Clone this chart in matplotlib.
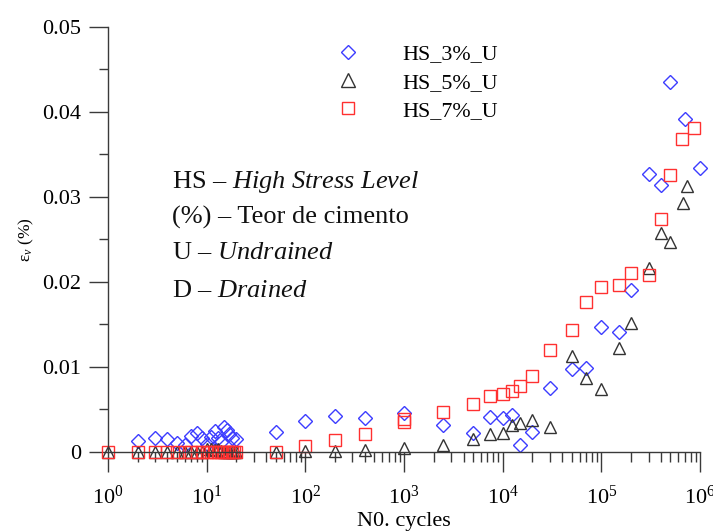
import matplotlib
matplotlib.use("Agg")
import matplotlib.pyplot as plt
from matplotlib.ticker import LogLocator, FixedLocator, MultipleLocator

plt.rcParams["font.family"] = ["Liberation Serif", "DejaVu Serif"]
plt.rcParams["mathtext.fontset"] = "custom"
plt.rcParams["mathtext.rm"] = "Liberation Serif"
plt.rcParams["mathtext.it"] = "Liberation Serif:italic"

# HS_3%_U
n_3 = [2, 3, 4, 5, 6, 7, 8, 9, 10, 11, 12, 13, 14, 15, 16, 17, 18, 20,
       50, 100, 200, 400, 1000, 2500, 5000, 7500, 10000, 12500, 15000,
       20000, 30000, 50000, 70000, 100000, 150000, 200000, 300000,
       400000, 500000, 700000, 1000000]
ev_3 = [0.0013, 0.0016, 0.0015, 0.0011, 0.0008, 0.0019, 0.0022, 0.0016,
        0.0009, 0.0018, 0.0025, 0.0016, 0.0012, 0.0029, 0.0026, 0.0021,
        0.0016, 0.0015, 0.0023, 0.0037, 0.0042, 0.0040, 0.0046, 0.0032,
        0.0022, 0.0041, 0.0040, 0.0044, 0.0008, 0.0024, 0.0075, 0.0098,
        0.0099, 0.0147, 0.0141, 0.0191, 0.0327, 0.0314, 0.0435, 0.0392,
        0.0334]

# HS_5%_U
n_5 = [1, 2, 3, 4, 5, 6, 7, 8, 9, 10, 11, 12, 13, 14, 15, 16, 17, 18, 19,
       20, 50, 100, 200, 400, 1000, 2500, 5000, 7500, 10000, 12500, 15000,
       20000, 30000, 50000, 70000, 100000, 150000, 200000, 300000, 400000,
       500000, 670000, 740000]
ev_5 = [0, 0, 0, 0, 0, 0, 0, 0, 0, 0.0003, 0.0003, 0.0002, 0.0003, 0.0001,
        0, 0, 0, 0, 0, 0, 0, 0.0001, 0.0001, 0.0002, 0.0005, 0.0008,
        0.0015, 0.0021, 0.0022, 0.0032, 0.0034, 0.0038, 0.0029, 0.0113,
        0.0087, 0.0074, 0.0122, 0.0152, 0.0217, 0.0258, 0.0247, 0.0293,
        0.0313]

# HS_7%_U
n_7 = [1, 2, 3, 4, 5, 6, 7, 8, 9, 10, 11, 12, 13, 14, 15, 16, 17, 18, 19,
       20, 50, 100, 200, 400, 1000, 1000, 2500, 5000, 7500, 10000, 12500,
       15000, 20000, 30000, 50000, 70000, 100000, 150000, 200000, 300000,
       400000, 500000, 660000, 870000]
ev_7 = [0, 0, 0, 0, 0, 0, 0, 0, 0, 0, 0, 0, 0, 0, 0, 0, 0, 0, 0, 0,
        0, 0.0007, 0.0014, 0.0021, 0.0039, 0.0035, 0.0047, 0.0057, 0.0066,
        0.0068, 0.0072, 0.0078, 0.0089, 0.0120, 0.0144, 0.0177, 0.0194,
        0.0196, 0.0211, 0.0208, 0.0274, 0.0326, 0.0368, 0.0381]

y_ticks = [0, 0.01, 0.02, 0.03, 0.04, 0.05]
y_labels = ["0", "0.01", "0.02", "0.03", "0.04", "0.05"]

notes = ["HS – $\\mathit{High\\ Stress\\ Level}$",
         "(%) – Teor de cimento",
         "U – $\\mathit{Undrained}$",
         "D – $\\mathit{Drained}$"]

fig = plt.figure(figsize=(7.13, 5.32), dpi=100)
ax = fig.add_axes([0.1515, 0.1504, 0.8305, 0.7989])

axis_col = "#3a3a3a"
ax.plot(n_3, ev_3, ls="none", marker="D", ms=6.8, mfc="none", mec="#3c3cff",
        mew=1.0, clip_on=False, label="HS_3%_U")
ax.plot(n_5, ev_5, ls="none", marker="^", ms=9, mfc="none", mec="#333333",
        mew=1.0, clip_on=False, label="HS_5%_U")
ax.plot(n_7, ev_7, ls="none", marker="s", ms=8.3, mfc="none", mec="#ff3030",
        mew=1.0, clip_on=False, label="HS_7%_U")

ax.set_xscale("log")
ax.set_xlim(1, 1e6)
ax.set_ylim(0, 0.05)
ax.xaxis.set_major_locator(LogLocator(base=10, numticks=10))
ax.xaxis.set_minor_locator(LogLocator(base=10, subs=range(2, 10), numticks=10))
ax.yaxis.set_major_locator(FixedLocator(y_ticks))
ax.set_yticklabels(y_labels)
ax.yaxis.set_minor_locator(MultipleLocator(0.005))

for side in ["top", "right"]:
    ax.spines[side].set_visible(False)
for side in ["left", "bottom"]:
    ax.spines[side].set_color(axis_col)
    ax.spines[side].set_linewidth(1.0)

ax.tick_params(axis="x", which="major", direction="out", length=14.5,
               width=1.0, color=axis_col, labelsize=16, pad=10)
ax.tick_params(axis="x", which="minor", direction="out", length=7,
               width=1.0, color=axis_col)
ax.tick_params(axis="y", which="major", direction="out", length=13.5,
               width=1.0, color=axis_col, labelsize=16, pad=6)
ax.tick_params(axis="y", which="minor", direction="out", length=6.5,
               width=1.0, color=axis_col)

ax.set_xlabel("N0. cycles", fontsize=16, labelpad=2)
ax.set_ylabel("ε$_v$ (%)", fontsize=12.5, labelpad=4)

note_y = [0.635, 0.553, 0.468, 0.379]
for txt, yy in zip(notes, note_y):
    ax.text(0.108, yy, txt, transform=ax.transAxes, fontsize=19,
            va="center", ha="left", color="#111111")

leg = ax.legend(loc="upper left", bbox_to_anchor=(326 / 713, 1 - 44 / 532),
                bbox_transform=fig.transFigure, frameon=False, fontsize=15.8,
                borderpad=0, borderaxespad=0, handlelength=2,
                handletextpad=1.5, labelspacing=0.36, numpoints=1)
leg.legend_handles[1].set_markersize(10)

fig.savefig("out.png", dpi=100)
